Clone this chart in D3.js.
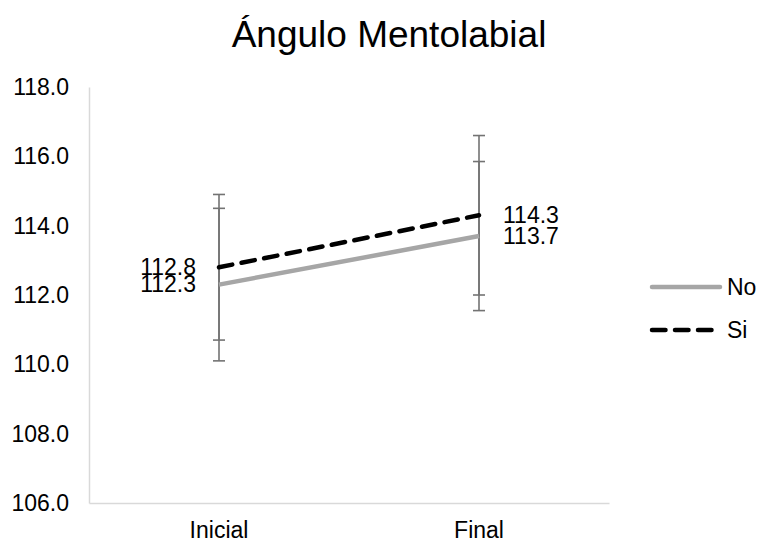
<!DOCTYPE html>
<html><head><meta charset="utf-8">
<script src="https://cdn.jsdelivr.net/npm/d3@7"></script>
<style>body{margin:0;background:#fff}svg{display:block}text{font-family:"Liberation Sans",Arial,sans-serif;fill:#000}</style>
</head><body><svg id="c" width="758" height="544"></svg>
<script>
const categories = ["Inicial", "Final"];
const seriesNames = ["No", "Si"];
const noValues = [112.3, 113.7];
const siValues = [112.8, 114.3];
const noErrors = [2.2, 2.15];
const siErrors = [2.1, 2.3];
const yTicks = [106, 108, 110, 112, 114, 116, 118];
const title = "Ángulo Mentolabial";

const svg = d3.select("#c");
const mLeft = 89, mRight = 609, mTop = 87, mBottom = 503;
const x = d3.scaleBand().domain(categories).range([mLeft, mRight]);
const y = d3.scaleLinear().domain([106, 118]).range([mBottom, mTop]);
const cx = d => x(d) + x.bandwidth() / 2;

svg.append("text").attr("x", 389).attr("y", 47).attr("text-anchor", "middle")
  .style("font-size", "37px").text(title);

// axes
const ya = svg.append("g").attr("transform", `translate(${mLeft},0)`)
  .call(d3.axisLeft(y).tickValues(yTicks).tickFormat(d3.format(".1f")).tickSize(0).tickPadding(20));
ya.select(".domain").attr("stroke", "#d9d9d9").attr("stroke-width", 1.5);
ya.selectAll("text").style("font-size", "23px").attr("fill", "#000");

const xa = svg.append("g").attr("transform", `translate(0,${mBottom})`)
  .call(d3.axisBottom(x).tickSize(0).tickPadding(19));
xa.select(".domain").attr("stroke", "#d9d9d9").attr("stroke-width", 1.5);
xa.selectAll("text").style("font-size", "23px").attr("fill", "#000");

const series = [
  {name: seriesNames[0], values: noValues, errs: noErrors, color: "#a6a6a6", dash: null},
  {name: seriesNames[1], values: siValues, errs: siErrors, color: "#000", dash: "13.5,9.5"}
];

// error bars
series.forEach(s => {
  categories.forEach((c, i) => {
    const g = svg.append("g").attr("stroke", "#737373").attr("stroke-width", 1.6);
    const hi = y(s.values[i] + s.errs[i]), lo = y(s.values[i] - s.errs[i]);
    g.append("line").attr("x1", cx(c)).attr("x2", cx(c)).attr("y1", hi).attr("y2", lo);
    g.append("line").attr("x1", cx(c) - 6).attr("x2", cx(c) + 6).attr("y1", hi).attr("y2", hi);
    g.append("line").attr("x1", cx(c) - 6).attr("x2", cx(c) + 6).attr("y1", lo).attr("y2", lo);
  });
});

const line = d3.line().x((d, i) => cx(categories[i])).y(d => y(d));
series.forEach(s => {
  svg.append("path").datum(s.values).attr("d", line).attr("fill", "none")
    .attr("stroke", s.color).attr("stroke-width", 4.5)
    .attr("stroke-linecap", s.dash ? "round" : "butt")
    .attr("stroke-dasharray", s.dash);
});

// data labels
series.forEach(s => {
  s.values.forEach((v, i) => {
    const first = i === 0;
    svg.append("text")
      .attr("x", cx(categories[i]) + (first ? -23 : 24))
      .attr("y", y(v)).attr("dy", "0.33em")
      .attr("text-anchor", first ? "end" : "start")
      .style("font-size", "23px").text(d3.format(".1f")(v));
  });
});

// legend
series.forEach((s, i) => {
  const ly = 287 + i * 43;
  svg.append("line").attr("x1", 652).attr("x2", 720).attr("y1", ly).attr("y2", ly)
    .attr("stroke", s.color).attr("stroke-width", 4.5)
    .attr("stroke-linecap", "round").attr("stroke-dasharray", s.dash);
  svg.append("text").attr("x", 727).attr("y", ly).attr("dy", "0.36em")
    .style("font-size", "23px").text(s.name);
});
</script></body></html>
